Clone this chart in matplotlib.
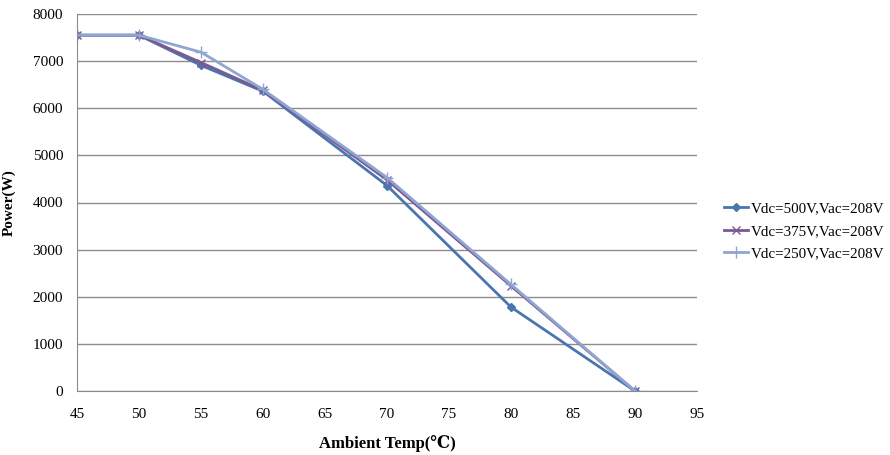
import numpy as np
import matplotlib.pyplot as plt

plt.rcParams['font.family'] = ['Liberation Serif', 'DejaVu Serif']

temps = [45, 50, 55, 60, 70, 80, 90]
p_500 = [7550, 7550, 6910, 6360, 4360, 1780, 0]
p_375 = [7550, 7550, 6970, 6380, 4480, 2230, 0]
p_250 = [7550, 7550, 7190, 6400, 4530, 2260, 0]
labels = ['Vdc=500V,Vac=208V', 'Vdc=375V,Vac=208V', 'Vdc=250V,Vac=208V']

fig = plt.figure(figsize=(8.9, 4.55), dpi=100)
ax = fig.add_axes([77/890, 1 - 391/455, 620/890, 377/455])

ax.plot(temps, p_500, color='#4a76b0', linewidth=2, marker='D', markersize=4, label=labels[0])
ax.plot(temps, p_375, color='#7b5a92', linewidth=2, marker='x', markersize=6, label=labels[1])
ax.plot(temps, p_250, color='#8fa6d2', linewidth=2, marker='+', markersize=8, label=labels[2])

ax.set_xlim(45, 95)
ax.set_ylim(0, 8000)
ax.set_xticks(np.arange(45, 96, 5))
ax.set_yticks(np.arange(0, 8001, 1000))
ax.yaxis.grid(True, color='#8c8c8c', linewidth=1)
ax.set_axisbelow(True)
for s in ['top', 'right']:
    ax.spines[s].set_visible(False)
for s in ['left', 'bottom']:
    ax.spines[s].set_color('#8c8c8c')
ax.tick_params(axis='both', length=0, labelsize=11, pad=10)
ax.tick_params(axis='x', pad=12)

ax.set_xlabel('Ambient Temp(℃)', fontsize=12, fontweight='bold', labelpad=10)
ax.set_ylabel('Power(W)', fontsize=11, fontweight='bold', labelpad=12)

fig.legend(loc='center left', bbox_to_anchor=(710/890, 1 - 231/455), frameon=False,
           fontsize=10.8, handlelength=1.6, handletextpad=0.2, labelspacing=0.6)

fig.savefig('out.png', dpi=100)
